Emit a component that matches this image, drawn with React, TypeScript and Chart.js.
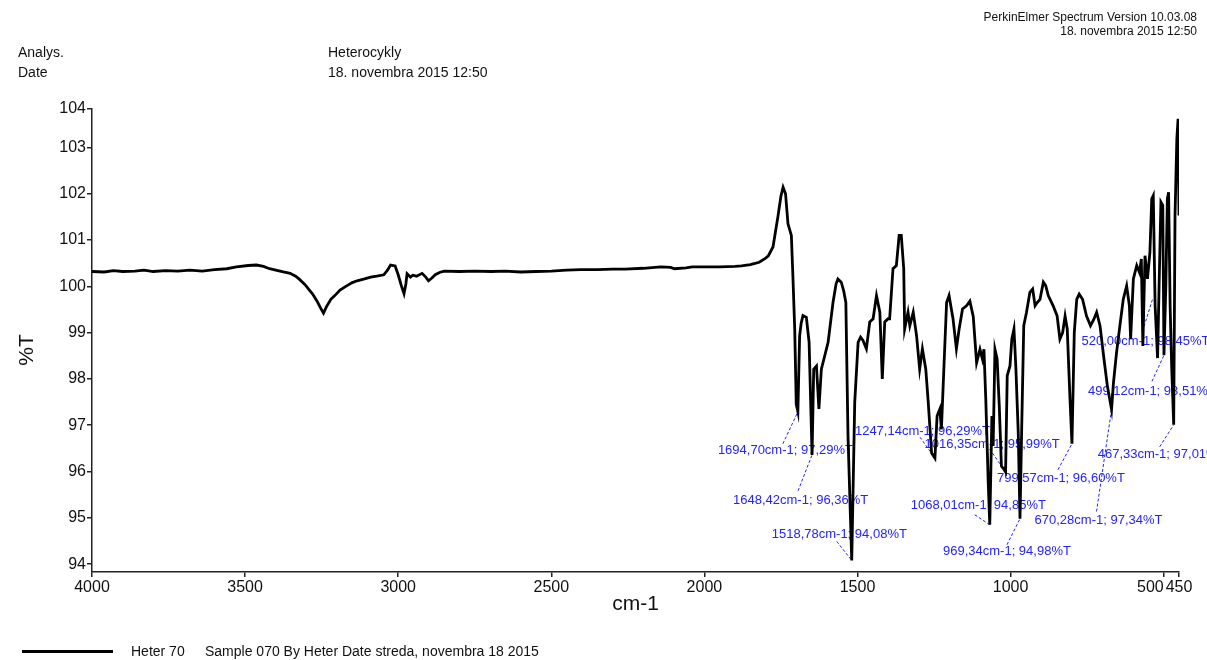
import React, { useEffect, useRef } from 'react';
import { Chart, registerables } from 'chart.js';

Chart.register(...registerables);

// ---------- data ----------
const WAVENUMBERS = [
  4000, 3960, 3930, 3900, 3860, 3830, 3800, 3760, 3720, 3680, 3640, 3600, 3560, 3528, 3490, 3463, 3440, 3420, 3400,
  3375, 3353, 3335, 3324, 3305, 3290, 3280, 3265, 3255, 3244, 3235, 3220, 3207, 3190, 3171, 3150, 3134, 3110, 3090,
  3070, 3047, 3035, 3025, 3010, 3000, 2990, 2981, 2975, 2971, 2960, 2952, 2940, 2922, 2910, 2901, 2890, 2879, 2865,
  2850, 2800, 2750, 2696, 2650, 2600, 2550, 2500, 2450, 2405, 2350, 2300, 2259, 2200, 2142, 2110, 2098, 2060, 2040,
  2000, 1950, 1900, 1879, 1850, 1821, 1800, 1791, 1776, 1760, 1750, 1743, 1735, 1727, 1716, 1711, 1705, 1700, 1694.7,
  1689, 1684, 1678, 1667, 1658, 1648.4, 1643, 1634, 1626, 1618, 1607, 1596, 1580, 1570, 1564, 1553, 1545, 1538, 1531,
  1518.8, 1509, 1498, 1490, 1482, 1471, 1460, 1449, 1438, 1427, 1419, 1411, 1400, 1395, 1384, 1373, 1364, 1357, 1349,
  1346, 1335, 1329, 1318, 1307, 1297, 1288, 1277, 1269, 1258, 1247.1, 1240, 1231, 1226, 1218, 1209, 1201, 1188, 1177,
  1168, 1157, 1144, 1133, 1122, 1111, 1100, 1092, 1087, 1081, 1073, 1068, 1061, 1057, 1051, 1044, 1037, 1030, 1022,
  1016.4, 1011, 1002, 996, 989, 983, 975, 969.3, 964, 957, 948, 937, 928, 920, 913, 904, 893, 885, 877, 861, 848, 839,
  830, 822, 815, 806, 799.6, 792, 784, 776, 765, 752, 739, 728, 719, 708, 695, 684, 670.3, 664, 654, 643, 632, 621,
  612, 608, 599, 588, 579, 573, 568, 561, 553, 545, 539, 534, 528, 520, 515, 509, 503, 499.1, 493, 488, 484, 479, 474,
  467.3, 463, 457, 453, 450,
];

const TRANSMITTANCE = [
  100.32, 100.31, 100.34, 100.32, 100.33, 100.35, 100.32, 100.34, 100.33, 100.35, 100.33, 100.36, 100.38, 100.42,
  100.45, 100.46, 100.43, 100.38, 100.35, 100.31, 100.28, 100.22, 100.16, 100.04, 99.92, 99.84, 99.68, 99.55, 99.42,
  99.55, 99.72, 99.8, 99.92, 100.0, 100.08, 100.12, 100.16, 100.2, 100.22, 100.25, 100.35, 100.46, 100.44, 100.25,
  100.02, 99.84, 100.05, 100.27, 100.2, 100.24, 100.22, 100.28, 100.2, 100.12, 100.18, 100.25, 100.3, 100.33, 100.32,
  100.33, 100.32, 100.33, 100.31, 100.32, 100.33, 100.35, 100.36, 100.36, 100.37, 100.37, 100.39, 100.42, 100.41,
  100.38, 100.4, 100.42, 100.42, 100.42, 100.43, 100.44, 100.47, 100.52, 100.61, 100.66, 100.85, 101.5, 101.95,
  102.14, 102.0, 101.35, 101.1, 100.23, 99.08, 97.45, 97.29, 98.93, 99.2, 99.37, 99.33, 98.79, 96.36, 98.21, 98.28,
  97.35, 98.21, 98.5, 98.79, 99.65, 100.05, 100.16, 100.09, 99.9, 99.65, 96.77, 94.08, 97.5, 98.79, 98.9, 98.83,
  98.65, 99.23, 99.3, 99.8, 99.44, 98.0, 99.23, 99.3, 99.3, 100.38, 100.45, 101.1, 101.1, 100.38, 99.08, 99.44, 99.15,
  99.44, 98.93, 98.21, 98.65, 98.21, 97.5, 96.4, 96.29, 97.2, 97.35, 96.91, 98.21, 99.65, 99.8, 99.3, 98.65, 99.08,
  99.51, 99.58, 99.68, 99.35, 98.35, 98.64, 98.43, 98.64, 97.56, 95.76, 94.85, 97.2, 96.55, 98.64, 98.43, 97.42,
  96.12, 96.05, 95.99, 98.07, 98.28, 98.86, 99.08, 98.28, 96.84, 94.98, 96.84, 99.15, 99.44, 99.87, 99.94, 99.58,
  99.65, 99.72, 100.09, 100.01, 99.8, 99.58, 99.36, 98.86, 99.0, 99.36, 99.08, 97.56, 96.6, 99.0, 99.72, 99.83, 99.72,
  99.36, 99.15, 99.29, 99.44, 99.15, 98.43, 97.85, 97.34, 97.92, 98.57, 99.15, 99.72, 100.01, 99.58, 98.86, 100.16,
  100.45, 100.3, 100.59, 98.71, 100.66, 100.16, 100.74, 101.89, 101.96, 99.58, 98.45, 100.01, 101.82, 101.75, 98.51,
  100.01, 101.89, 102.03, 99.58, 98.28, 97.01, 101.53, 103.19, 103.62, 101.53,
];

const X_TICKS = [4000, 3500, 3000, 2500, 2000, 1500, 1000, 500, 450];
const Y_TICKS = [94, 95, 96, 97, 98, 99, 100, 101, 102, 103, 104];
const X_MIN = 450;
const X_MAX = 4000;
const Y_MIN = 93.83;
const Y_MAX = 103.83;

const PEAK_WAVENUMBERS = [1694.7, 1648.42, 1518.78, 1247.14, 1016.35, 799.57, 1068.01, 969.34, 670.28, 467.33, 499.12, 520.0];
const PEAK_TRANSMITTANCE = [97.29, 96.36, 94.08, 96.29, 95.99, 96.6, 94.85, 94.98, 97.34, 97.01, 98.51, 98.45];

// label placement (pixel offsets from the marked peak): label left/centre, leader start, leader end
const PEAK_LABEL_LAYOUT = [
  { lx: -80, ly: 39, sx: -15, sy: 32, ex: 0, ey: 0 },
  { lx: -79, ly: 46, sx: -14, sy: 36, ex: 0, ey: 0 },
  { lx: -80, ly: -26, sx: -15, sy: -19, ex: 0, ey: 0 },
  { lx: -80, ly: -27, sx: -15, sy: -21, ex: 0, ey: 0 },
  { lx: -81, ly: -28, sx: -16, sy: -23, ex: 0, ey: 0 },
  { lx: -75, ly: 35, sx: -14, sy: 26, ex: 0, ey: 0 },
  { lx: -79, ly: -19, sx: -15, sy: -10, ex: 0, ey: 0 },
  { lx: -77, ly: 33, sx: -13, sy: 26, ex: 0, ey: 0 },
  { lx: -77, ly: 111, sx: -15, sy: 102, ex: 0, ey: 0 },
  { lx: -76, ly: 30, sx: -14, sy: 22, ex: 0, ey: 0 },
  { lx: -76, ly: 36, sx: -12, sy: 26, ex: 0, ey: 0 },
  { lx: -76, ly: -17, sx: -15, sy: -27, ex: -5, ey: -59 },
];

const FONT = '"Liberation Sans", Arial, Helvetica, sans-serif';
const fmt = (v: number) => v.toFixed(2).replace('.', ',');

const decorPlugin = {
  id: 'decor',
  beforeDatasetsDraw(chart: any) {
    const ctx = chart.ctx;
    const xs = chart.scales.x;
    const ys = chart.scales.y;
    ctx.save();
    ctx.font = `13px ${FONT}`;
    ctx.fillStyle = '#2323ff';
    ctx.strokeStyle = '#2323ff';
    ctx.lineWidth = 1;
    ctx.setLineDash([3, 2]);
    ctx.textBaseline = 'middle';
    ctx.textAlign = 'left';
    PEAK_WAVENUMBERS.forEach((wn, i) => {
      const t = PEAK_TRANSMITTANCE[i];
      const px = xs.getPixelForValue(wn);
      const py = ys.getPixelForValue(t);
      const L = PEAK_LABEL_LAYOUT[i];
      ctx.beginPath();
      ctx.moveTo(px + L.sx, py + L.sy);
      ctx.lineTo(px + L.ex, py + L.ey);
      ctx.stroke();
      ctx.fillText(`${fmt(wn)}cm-1; ${fmt(t)}%T`, px + L.lx, py + L.ly);
    });
    ctx.restore();
  },
  afterDraw(chart: any) {
    const ctx = chart.ctx;
    const xs = chart.scales.x;
    const area = chart.chartArea;
    ctx.save();
    ctx.font = `16px ${FONT}`;
    ctx.fillStyle = '#111';
    ctx.textBaseline = 'middle';
    X_TICKS.forEach((v, i) => {
      const x = xs.getPixelForValue(v);
      const next = X_TICKS[i + 1];
      const crowded = next !== undefined && Math.abs(xs.getPixelForValue(next) - x) < 40;
      ctx.textAlign = crowded ? 'right' : 'center';
      ctx.fillText(String(v), x, area.bottom + 16);
    });
    // y axis title
    ctx.font = `21px ${FONT}`;
    ctx.textAlign = 'center';
    ctx.translate(27, 350);
    ctx.rotate(-Math.PI / 2);
    ctx.fillText('%T', 0, 0);
    ctx.restore();
  },
};

function SpectrumChart() {
  const ref = useRef<HTMLCanvasElement | null>(null);
  useEffect(() => {
    if (!ref.current) return;
    const points = WAVENUMBERS.map((x, i) => ({ x, y: TRANSMITTANCE[i] }));
    const chart = new Chart(ref.current, {
      type: 'line',
      data: {
        datasets: [
          {
            label: 'Heter 70',
            data: points,
            borderColor: '#000',
            borderWidth: 2.8,
            pointRadius: 0,
            tension: 0,
            fill: false,
          },
        ],
      },
      options: {
        animation: false,
        responsive: false,
        devicePixelRatio: 1,
        layout: { padding: { left: 0, top: 109, right: 28, bottom: 38 } },
        plugins: { legend: { display: false }, tooltip: { enabled: false } },
        scales: {
          x: {
            type: 'linear',
            reverse: true,
            min: X_MIN,
            max: X_MAX,
            afterBuildTicks: (s: any) => {
              s.ticks = X_TICKS.map((v) => ({ value: v }));
            },
            afterFit: (s: any) => {
              s.height = 50;
            },
            ticks: { display: false },
            grid: { drawOnChartArea: false, drawTicks: true, tickLength: 5, color: '#222', lineWidth: 1.5 },
            border: { display: true, color: '#222', width: 1.5 },
            title: {
              display: true,
              text: 'cm-1',
              color: '#111',
              font: { family: FONT, size: 21 },
              padding: { top: 0, bottom: 5 },
            },
          },
          y: {
            type: 'linear',
            min: Y_MIN,
            max: Y_MAX,
            afterBuildTicks: (s: any) => {
              s.ticks = Y_TICKS.map((v) => ({ value: Math.min(v, Y_MAX) }));
            },
            afterFit: (s: any) => {
              s.width = 92;
            },
            ticks: {
              autoSkip: false,
              padding: 1,
              color: '#111',
              font: { family: FONT, size: 16 },
              callback: (_v: any, i: number) => String(Y_TICKS[i]),
            },
            grid: { drawOnChartArea: false, drawTicks: true, tickLength: 5, color: '#222', lineWidth: 1.5 },
            border: { display: true, color: '#222', width: 1.5 },
          },
        },
      },
      plugins: [decorPlugin],
    });
    return () => chart.destroy();
  }, []);
  return <canvas ref={ref} width={1207} height={660} style={{ display: 'block', position: 'absolute', left: 0, top: 0 }} />;
}

const txt = (left: number | null, top: number, size: number, text: string, right?: number) => (
  <div
    style={{
      position: 'absolute',
      top,
      ...(left !== null ? { left } : { right }),
      fontFamily: FONT,
      fontSize: size,
      lineHeight: `${size + 2}px`,
      color: '#111',
      whiteSpace: 'nowrap',
    }}
  >
    {text}
  </div>
);

export default function App() {
  return (
    <div style={{ position: 'absolute', left: 0, top: 0, width: 1207, height: 660, background: '#fff', overflow: 'hidden' }}>
      <SpectrumChart />
      {txt(null, 10, 12, 'PerkinElmer Spectrum Version 10.03.08', 10)}
      {txt(null, 24, 12, '18. novembra 2015 12:50', 10)}
      {txt(18, 44, 14, 'Analys.')}
      {txt(18, 64, 14, 'Date')}
      {txt(328, 44, 14, 'Heterocykly')}
      {txt(328, 64, 14, '18. novembra 2015 12:50')}
      <div style={{ position: 'absolute', left: 22, top: 650, width: 91, height: 3, background: '#000' }} />
      {txt(131, 643, 14, 'Heter 70')}
      {txt(205, 643, 14, 'Sample 070 By Heter Date streda, novembra 18 2015')}
    </div>
  );
}
